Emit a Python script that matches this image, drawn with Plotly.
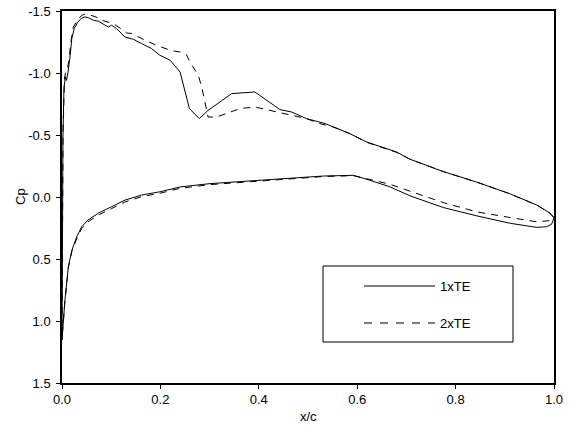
import plotly.graph_objects as go

# ---- data: 1xTE (solid) ----
te1_upper_x = [0.0, 0.0005, 0.001, 0.002, 0.004, 0.007, 0.009, 0.012, 0.016, 0.020, 0.025, 0.032,
               0.040, 0.047, 0.053, 0.064, 0.074, 0.087, 0.094, 0.101, 0.111, 0.128, 0.138, 0.145,
               0.162, 0.182, 0.199, 0.220, 0.240, 0.259, 0.279, 0.297, 0.345, 0.392, 0.443, 0.467,
               0.497, 0.535, 0.585, 0.619, 0.680, 0.707, 0.775, 0.843, 0.911, 0.965, 0.992, 1.0]
te1_upper_cp = [1.15, 0.6, 0.0, -0.5, -0.88, -0.97, -0.94, -1.0, -1.12, -1.28, -1.36, -1.41,
                -1.444, -1.452, -1.447, -1.425, -1.417, -1.385, -1.371, -1.385, -1.358, -1.29, -1.277, -1.272,
                -1.237, -1.197, -1.143, -1.102, -1.008, -0.713, -0.632, -0.699, -0.834, -0.847, -0.705, -0.685,
                -0.632, -0.592, -0.511, -0.444, -0.363, -0.305, -0.205, -0.12, -0.025, 0.065, 0.13, 0.17]
te1_lower_x = [0.0, 0.006, 0.013, 0.020, 0.030, 0.040, 0.053, 0.074, 0.101, 0.128, 0.162, 0.199,
               0.240, 0.301, 0.368, 0.477, 0.531, 0.592, 0.626, 0.667, 0.707, 0.775, 0.843, 0.911,
               0.965, 0.985, 0.995, 1.0]
te1_lower_cp = [1.15, 0.83, 0.56, 0.43, 0.32, 0.24, 0.185, 0.13, 0.078, 0.025, -0.016, -0.042,
                -0.081, -0.108, -0.127, -0.156, -0.169, -0.175, -0.135, -0.081, -0.01, 0.085, 0.152, 0.212,
                0.245, 0.24, 0.22, 0.17]

# ---- data: 2xTE (dashed) ----
te2_upper_x = [0.0, 0.0005, 0.001, 0.002, 0.005, 0.008, 0.011, 0.014, 0.018, 0.023, 0.032, 0.040,
               0.049, 0.053, 0.067, 0.074, 0.081, 0.094, 0.104, 0.125, 0.131, 0.142, 0.155, 0.169,
               0.189, 0.209, 0.220, 0.240, 0.253, 0.260, 0.277, 0.284, 0.291, 0.297, 0.314, 0.341,
               0.362, 0.392, 0.416, 0.443, 0.470, 0.497, 0.524, 0.551, 0.585, 0.620, 0.680, 0.707,
               0.775, 0.843, 0.911, 0.965, 0.992, 1.0]
te2_upper_cp = [1.15, 0.6, 0.0, -0.5, -0.95, -1.03, -1.04, -1.10, -1.25, -1.37, -1.43, -1.465,
                -1.479, -1.473, -1.452, -1.444, -1.425, -1.411, -1.398, -1.344, -1.323, -1.318, -1.29, -1.264,
                -1.229, -1.197, -1.183, -1.169, -1.148, -1.089, -0.981, -0.887, -0.766, -0.645, -0.645, -0.685,
                -0.713, -0.726, -0.705, -0.685, -0.659, -0.632, -0.592, -0.565, -0.511, -0.44, -0.36, -0.305,
                -0.205, -0.12, -0.025, 0.065, 0.13, 0.166]
te2_lower_x = [0.0, 0.006, 0.013, 0.020, 0.030, 0.040, 0.053, 0.074, 0.101, 0.128, 0.162, 0.199,
               0.240, 0.301, 0.368, 0.477, 0.531, 0.592, 0.619, 0.667, 0.707, 0.775, 0.843, 0.911,
               0.965, 0.992, 1.0]
te2_lower_cp = [1.15, 0.84, 0.57, 0.44, 0.335, 0.255, 0.20, 0.145, 0.093, 0.04, -0.003, -0.03,
                -0.07, -0.10, -0.12, -0.15, -0.165, -0.172, -0.148, -0.102, -0.05, 0.045, 0.12, 0.166,
                0.20, 0.19, 0.166]

series_names = ["1xTE", "2xTE"]
x_ticks = [0.0, 0.2, 0.4, 0.6, 0.8, 1.0]
x_ticklabels = ["0.0", "0.2", "0.4", "0.6", "0.8", "1.0"]
y_ticks = [-1.5, -1.0, -0.5, 0.0, 0.5, 1.0, 1.5]
y_ticklabels = ["-1.5", "-1.0", "-0.5", "0.0", "0.5", "1.0", "1.5"]

FONT = "Liberation Sans, Arial, sans-serif"
FS = 13
DASH = "7px,6px"

fig = go.Figure()
fig.add_trace(go.Scatter(
    x=te1_upper_x + te1_lower_x[::-1], y=te1_upper_cp + te1_lower_cp[::-1],
    mode="lines", name=series_names[0], showlegend=False,
    line=dict(color="black", width=1)))
fig.add_trace(go.Scatter(
    x=te2_upper_x + te2_lower_x[::-1], y=te2_upper_cp + te2_lower_cp[::-1],
    mode="lines", name=series_names[1], showlegend=False,
    line=dict(color="black", width=1, dash=DASH)))

# plot-area geometry in pixels
W_L, W_R, H_T, H_B = 62, 554, 11, 383
def px(xp):
    return (xp - W_L) / (W_R - W_L)
def py(yp):
    return (H_B - yp) / (H_B - H_T)

# manual legend
fig.add_shape(type="rect", xref="paper", yref="paper",
              x0=px(323), x1=px(513), y0=py(342), y1=py(266),
              line=dict(color="black", width=1), fillcolor="white", layer="above")
for i, (yy, dash) in enumerate([(286, "solid"), (323, "8px,8px")]):
    fig.add_shape(type="line", xref="paper", yref="paper",
                  x0=px(364), x1=px(435), y0=py(yy), y1=py(yy),
                  line=dict(color="black", width=1, dash=dash), layer="above")
    fig.add_annotation(xref="paper", yref="paper", x=px(438), y=py(yy),
                       text=series_names[i], showarrow=False, xanchor="left", yanchor="middle",
                       font=dict(family=FONT, size=FS, color="black"))

# axis titles
fig.add_annotation(xref="paper", yref="paper", x=px(308), y=py(417), text="x/c",
                   showarrow=False, xanchor="center", yanchor="middle",
                   font=dict(family=FONT, size=FS, color="black"))
fig.add_annotation(xref="paper", yref="paper", x=px(20), y=py(197), text="Cp",
                   showarrow=False, xanchor="center", yanchor="middle", textangle=-90,
                   font=dict(family=FONT, size=FS, color="black"))

fig.update_layout(
    width=571, height=427,
    margin=dict(l=W_L, r=571 - W_R, t=H_T, b=427 - H_B, autoexpand=False),
    paper_bgcolor="white", plot_bgcolor="white",
    font=dict(family=FONT, size=FS, color="black"),
    showlegend=False,
)
fig.update_xaxes(range=[0, 1], tickvals=x_ticks, ticktext=x_ticklabels, automargin=False,
                 showgrid=False, zeroline=False, showline=True, linecolor="black", linewidth=1.5,
                 mirror=True, ticks="outside", ticklen=4, tickcolor="black", ticklabelstandoff=0)
fig.update_yaxes(range=[1.5, -1.5], tickvals=y_ticks, ticktext=y_ticklabels, automargin=False,
                 showgrid=False, zeroline=False, showline=True, linecolor="black", linewidth=1.5,
                 mirror=True, ticks="outside", ticklen=4, tickcolor="black", ticklabelstandoff=3)

fig.write_html("out.html")
